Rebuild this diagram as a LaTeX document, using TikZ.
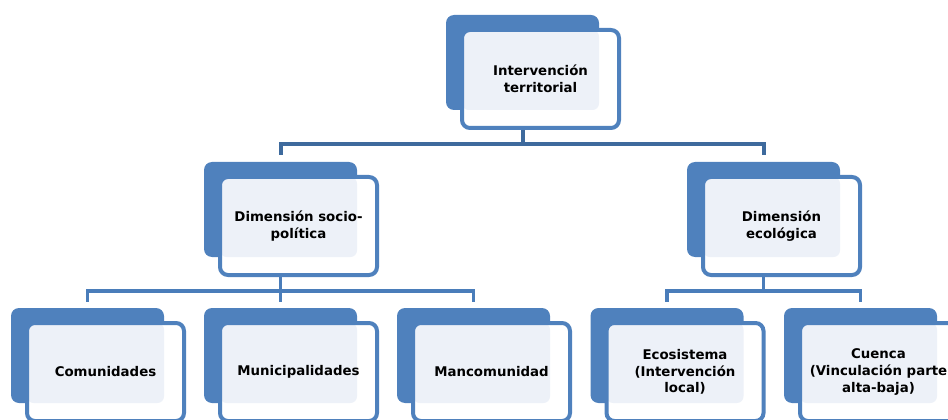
\documentclass[tikz,border=0pt]{standalone}
\usepackage{fontspec}
\setsansfont{DejaVu Sans}
\usepackage{tikz}
\definecolor{cardblue}{RGB}{79,129,189}
\definecolor{cardlight}{RGB}{237,241,248}
\definecolor{linkdark}{RGB}{62,106,157}
\definecolor{linkblue}{RGB}{74,125,186}
\tikzset{
  back/.style={fill=cardblue, rounded corners=6pt, minimum width=114.75pt, minimum height=71.25pt, inner sep=0pt, outer sep=0pt},
  card/.style={draw=cardblue, line width=3pt, fill=white, rounded corners=6pt, minimum width=117.75pt, minimum height=73.5pt, inner sep=0pt, outer sep=0pt, align=center, font=\sffamily\bfseries\fontsize{10}{12.6}\selectfont,
    path picture={\fill[cardlight, rounded corners=5pt] (path picture bounding box.north west) rectangle (#1.south east);}},
  toplink/.style={draw=linkdark, line width=3pt},
  sublink/.style={draw=linkblue, line width=2.6pt}
}
\begin{document}
\begin{tikzpicture}[x=0.75pt, y=-0.75pt]
\useasboundingbox (0,0) rectangle (948,420);
% Back boxes
\node[back] (terr) at (522.5,62.5) {};
\node[back] (soc) at (280.5,209.5) {};
\node[back] (eco) at (763.5,209.5) {};
\node[back] (com) at (87.5,355.5) {};
\node[back] (mun) at (280.5,355.5) {};
\node[back] (man) at (473.5,355.5) {};
\node[back] (ecs) at (667,355.5) {};
\node[back] (cue) at (860.5,355.5) {};
% Connectors
\draw[toplink] (terr.south) -- ++(0,34) -| ([shift={(0,-7)}]soc.north);
\draw[toplink] (terr.south) -- ++(0,34) -| ([shift={(0,-7)}]eco.north);
\draw[sublink] (soc.south) -- ++(0,34) -| ([shift={(0,-6)}]com.north);
\draw[sublink] (soc.south) -- ++(0,34) -| ([shift={(0,-6)}]mun.north);
\draw[sublink] (soc.south) -- ++(0,34) -| ([shift={(0,-6)}]man.north);
\draw[sublink] (eco.south) -- ++(0,34) -| ([shift={(0,-6)}]ecs.north);
\draw[sublink] (eco.south) -- ++(0,34) -| ([shift={(0,-6)}]cue.north);
% Front boxes
\node[card=terr] (terrf) at ([shift={(18,16.5)}]terr.center) {Intervención\\territorial};
\node[card=soc] (socf) at ([shift={(18,16.5)}]soc.center) {Dimensión socio-\\política};
\node[card=eco] (ecof) at ([shift={(18,16.5)}]eco.center) {Dimensión\\ecológica};
\node[card=com] (comf) at ([shift={(18,16.5)}]com.center) {Comunidades};
\node[card=mun] (munf) at ([shift={(18,16.5)}]mun.center) {Municipalidades};
\node[card=man] (manf) at ([shift={(18,16.5)}]man.center) {Mancomunidad};
\node[card=ecs] (ecsf) at ([shift={(18,16.5)}]ecs.center) {Ecosistema\\(Intervención\\local)};
\node[card=cue] (cuef) at ([shift={(18,16.5)}]cue.center) {Cuenca\\(Vinculación parte\\alta-baja)};
\end{tikzpicture}
\end{document}
